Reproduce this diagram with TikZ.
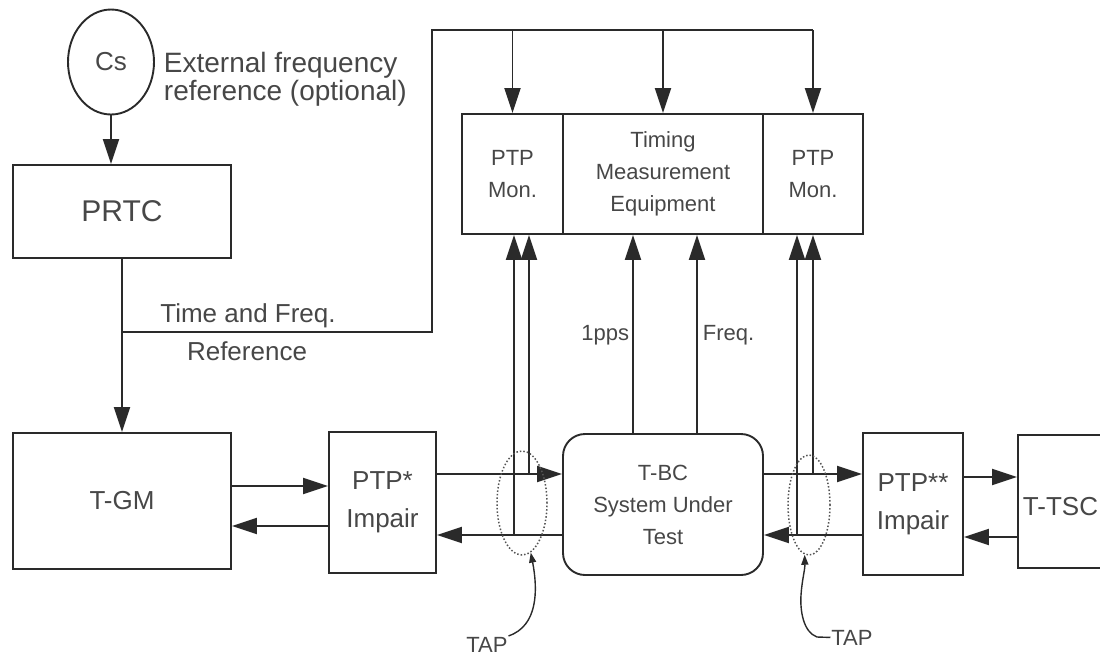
\documentclass[tikz,border=0pt]{standalone}
\usepackage{fontspec}
\setmainfont{Liberation Sans}
\usetikzlibrary{arrows.meta,shapes.geometric}
\definecolor{ink}{HTML}{2A2A2A}
\definecolor{txt}{HTML}{474747}
\definecolor{dots}{HTML}{555555}
\newcommand\fntS{\fontsize{22}{32}\selectfont}
\newcommand\fntM{\fontsize{26}{38}\selectfont}
\newcommand\fntL{\fontsize{30}{36}\selectfont}
\newcommand\fntE{\fontsize{28}{28}\selectfont}
\begin{document}
\begin{tikzpicture}[x=1pt,y=-1pt,color=ink,line width=1.9pt,
  box/.style={draw,rectangle,inner sep=0pt,text=txt,align=center},
  lbl/.style={text=txt,inner sep=0pt},
  arr/.style={-{Triangle[length=25pt,width=16pt]}},
  tiparr/.style={line width=1.4pt,-{Triangle[length=10pt,width=7pt]}},
  tapring/.style={draw=dots,dotted,line width=1.5pt,ellipse,inner sep=0pt}]
\useasboundingbox (0,0) rectangle (1100,657);
\clip (0,0) rectangle (1100,657);

% reference sources
\node[draw,ellipse,minimum width=86pt,minimum height=105pt,inner sep=0pt,text=txt,font=\fntM] (cs) at (111,62) {Cs};
\node[lbl,anchor=base west,font=\fntE] (ext1) at (163,72) {External frequency};
\node[lbl,anchor=base west,font=\fntE] (ext2) at (163,100) {reference (optional)};
\node[box,minimum width=218pt,minimum height=93pt,font=\fntL] (prtc) at (122,211.5) {PRTC};

% measurement equipment
\node[box,minimum width=101pt,minimum height=120pt,font=\fntS] (mon1) at (512.5,174) {PTP\\Mon.};
\node[box,minimum width=200pt,minimum height=120pt,font=\fntS] (tme) at (663,174) {Timing\\Measurement\\Equipment};
\node[box,minimum width=100pt,minimum height=120pt,font=\fntS] (mon2) at (813,174) {PTP\\Mon.};

% chain under test
\node[box,minimum width=218pt,minimum height=136pt,font=\fntM] (tgm) at (122,501) {T-GM};
\node[box,minimum width=107pt,minimum height=141pt,font=\fntM] (imp1) at (382.5,502.5) {PTP*\\Impair};
\node[box,rounded corners=22pt,minimum width=200pt,minimum height=141pt,font=\fntS] (tbc) at (663,504.5) {T-BC\\System Under\\Test};
\node[box,minimum width=100pt,minimum height=142pt,font=\fntM] (imp2) at (913,504) {PTP**\\Impair};
\node[box,minimum width=110pt,minimum height=133pt] (tsc) at (1073,501.5) {};
\node[lbl,anchor=base west,font=\fntM] (tsctxt) at (1022,515) {T-TSC};

% reference distribution
\draw[arr] (cs.south) -- (cs.south |- prtc.north);
\draw[arr] (prtc) -- (tgm);
\coordinate (br) at (122,332);
\coordinate (bend) at (432,332);
\coordinate (top) at (432,30);
\coordinate (topR) at (813,30);
\draw (br) -- (bend) -- (top) -- (topR);
\draw[arr] (topR) -- (mon2.north);
\draw[arr] (top -| mon1.north) -- (mon1.north);
\draw[arr] (top -| tme.north) -- (tme.north);
\node[lbl,anchor=base,font=\fntM] (tf1) at (248,322) {Time and Freq.};
\node[lbl,anchor=base,font=\fntM] (tf2) at (247,360) {Reference};

% packet flows
\coordinate (hA) at (0,486);
\coordinate (hB) at (0,526);
\coordinate (hC) at (0,474);
\coordinate (hD) at (0,535);
\coordinate (hE) at (0,477);
\coordinate (hF) at (0,537);
\draw[arr] (tgm.east |- hA) -- (imp1.west |- hA);
\draw[arr] (imp1.west |- hB) -- (tgm.east |- hB);
\draw[arr] (imp1.east |- hC) -- (tbc.west |- hC);
\draw[arr] (tbc.west |- hD) -- (imp1.east |- hD);
\draw[arr] (tbc.east |- hC) -- (imp2.west |- hC);
\draw[arr] (imp2.west |- hD) -- (tbc.east |- hD);
\draw[arr] (imp2.east |- hE) -- (tsc.west |- hE);
\draw[arr] (tsc.west |- hF) -- (imp2.east |- hF);

% taps towards the monitors
\coordinate (tl1) at (514,535);
\coordinate (tl2) at (529,474);
\coordinate (tr1) at (797,535);
\coordinate (tr2) at (813,474);
\draw[arr] (tl1) -- (tl1 |- mon1.south);
\draw[arr] (tl2) -- (tl2 |- mon1.south);
\draw[arr] (tr1) -- (tr1 |- mon2.south);
\draw[arr] (tr2) -- (tr2 |- mon2.south);

% 1pps and frequency outputs
\coordinate (ppsx) at (633,0);
\coordinate (frqx) at (697,0);
\draw[arr] (tbc.north -| ppsx) -- (tme.south -| ppsx);
\draw[arr] (tbc.north -| frqx) -- (tme.south -| frqx);
\node[lbl,anchor=base east,font=\fntS] (pps) at (630,340) {1pps};
\node[lbl,anchor=base west,font=\fntS] (frq) at (702,340) {Freq.};

% tap points
\node[tapring,minimum width=50pt,minimum height=104pt] (tapL) at (522,503) {};
\node[tapring,minimum width=42pt,minimum height=100pt] (tapR) at (809,505) {};
\node[lbl,anchor=base,font=\fntS] (tapLt) at (487,652) {TAP};
\node[lbl,anchor=base,font=\fntS] (tapRt) at (852,645) {TAP};
\draw[tiparr] (tapLt.north east) .. controls (538,626) and (538,590) .. (tapL.-80);
\draw[tiparr] (tapRt.west) -- (817,637) .. controls (803,632) and (800,610) .. (801,595)
  .. controls (802,580) and (805,570) .. (tapR.-95);
\end{tikzpicture}
\end{document}
